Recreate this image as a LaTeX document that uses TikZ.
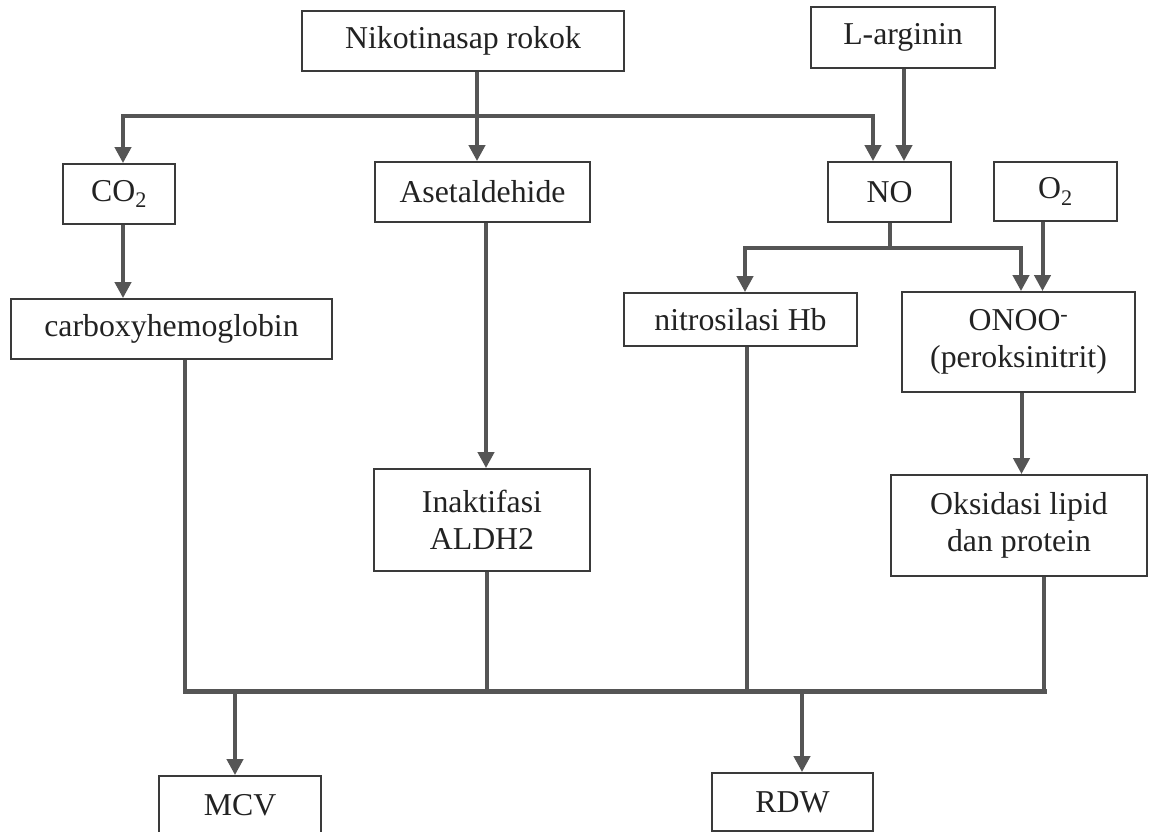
\documentclass[tikz,border=0pt]{standalone}
\usepackage{fontspec}
\setmainfont{Liberation Serif}
\usetikzlibrary{arrows.meta}
\definecolor{lncol}{HTML}{555555}
\definecolor{bxcol}{HTML}{3A3A3A}
\definecolor{txcol}{HTML}{222222}
\begin{document}
\begin{tikzpicture}[x=1pt,y=-1pt,
  box/.style={draw=bxcol,line width=1.8pt,rectangle,inner sep=0pt,align=center,
    text=txcol,font=\fontsize{31.8}{37}\selectfont},
  conn/.style={draw=lncol,line width=4pt},
  thinconn/.style={draw=lncol,line width=3.2pt},
  arr/.style={conn,-{Triangle[width=16pt,length=16pt]}}]
\useasboundingbox (0,0) rectangle (1149,832);
% nodes
\node[box,minimum width=322pt,minimum height=60pt] (niko) at (463,41) {Nikotinasap rokok};
\node[box,minimum width=184pt,minimum height=61pt] (larg) at (903,37.5) {L-arginin};
\node[box,minimum width=112pt,minimum height=60pt] (co2) at (119,194) {CO\textsubscript{2}};
\node[box,minimum width=215pt,minimum height=60pt] (aset) at (482.5,192) {Asetaldehide};
\node[box,minimum width=123pt,minimum height=60pt] (no) at (889.5,192) {NO};
\node[box,minimum width=123pt,minimum height=59pt] (o2) at (1055.5,191.5) {O\textsubscript{2}};
\node[box,minimum width=321pt,minimum height=60pt] (carb) at (171.5,329) {carboxyhemoglobin};
\node[box,minimum width=233pt,minimum height=53pt] (nitro) at (740.5,319.5) {nitrosilasi Hb};
\node[box,minimum width=233pt,minimum height=100pt] (onoo) at (1018.5,342) {ONOO\textsuperscript{-}\\(peroksinitrit)};
\node[box,minimum width=216pt,minimum height=102pt] (inak) at (482,520) {Inaktifasi\\ALDH2};
\node[box,minimum width=256pt,minimum height=101pt] (oks) at (1019,525.5) {Oksidasi lipid\\dan protein};
\node[box,minimum width=162pt,minimum height=58pt] (mcv) at (240,805) {MCV};
\node[box,minimum width=161pt,minimum height=58pt] (rdw) at (792.5,802) {RDW};
% junction coordinates
\coordinate (j1) at (477,116);
\coordinate (tl) at (123,116);
\coordinate (tr) at (873,116);
\coordinate (xl) at (904,0);
\coordinate (xa) at (486,0);
\coordinate (nb) at (890,248);
\coordinate (nl) at (745,248);
\coordinate (nr) at (1021,248);
\coordinate (xo2) at (1042.5,0);
\coordinate (xon) at (1021.5,0);
\coordinate (bl) at (185,691);
\coordinate (b2) at (487,691);
\coordinate (b3) at (747,691);
\coordinate (br) at (1044,691);
\coordinate (bm) at (235,691);
\coordinate (bn) at (802,691);
% connectors top
\draw[arr] (niko.south -| j1) -- (aset.north -| j1);
\draw[arr] (j1) -- (tl) -- (co2.north -| tl);
\draw[arr] (j1) -- (tr) -- (no.north -| tr);
\draw[arr] (larg.south -| xl) -- (no.north -| xl);
\draw[arr] (co2.south -| tl) -- (carb.north -| tl);
\draw[arr] (aset.south -| xa) -- (inak.north -| xa);
\draw[arr] (no.south -| nb) -- (nb) -- (nl) -- (nitro.north -| nl);
\draw[arr] (nb) -- (nr) -- (onoo.north -| nr);
\draw[arr] (o2.south -| xo2) -- (onoo.north -| xo2);
\draw[arr] (onoo.south -| xon) -- (oks.north -| xon);
% bottom collector
\draw[thinconn] (carb.south -| bl) -- (bl);
\draw[thinconn] (oks.south -| br) -- (br);
\draw[thinconn] (inak.south -| b2) -- (b2);
\draw[thinconn] (nitro.south -| b3) -- (b3);
\draw[draw=lncol,line width=5pt,line cap=rect] (bl) -- (br);
\draw[arr] (bm) -- (mcv.north -| bm);
\draw[arr] (bn) -- (rdw.north -| bn);
\end{tikzpicture}
\end{document}
